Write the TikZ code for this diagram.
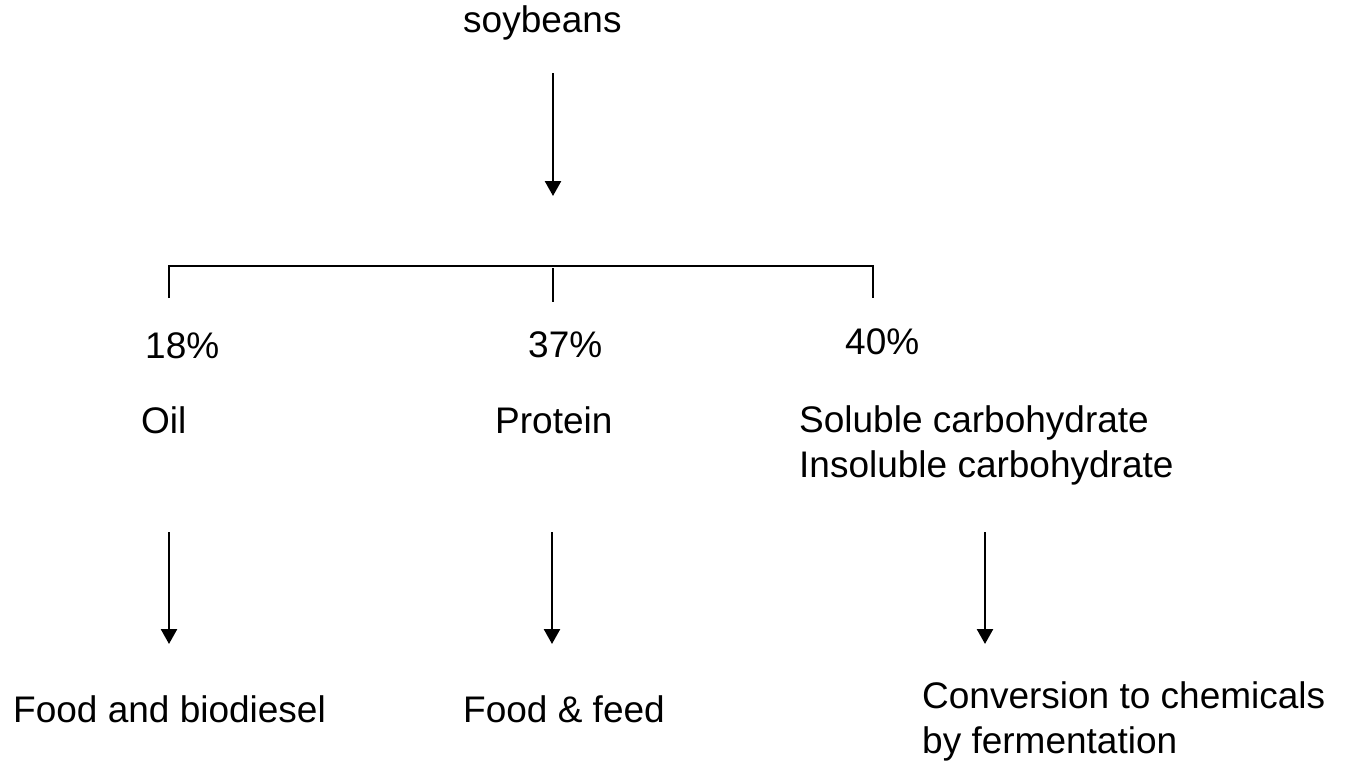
\documentclass[tikz,border=0pt]{standalone}
\usepackage{fontspec}
\setmainfont{Liberation Sans}
\usetikzlibrary{arrows.meta}
\begin{document}
\begin{tikzpicture}[x=1pt,y=-1pt,
  lbl/.style={anchor=base west,inner sep=0pt,font=\fontsize{37}{45}\selectfont,align=left},
  line/.style={line width=2.5pt},
  arr/.style={line width=2.5pt,-{Triangle[width=16pt,length=15pt]}}]
\useasboundingbox[fill=white] (0,0) rectangle (1345,771);
% texts
\node[lbl] (soy) at (463,32) {soybeans};
\node[lbl] (p18) at (145,358) {18\%};
\node[lbl] (p37) at (528,357) {37\%};
\node[lbl] (p40) at (845,354) {40\%};
\node[lbl] (oil) at (141,433) {Oil};
\node[lbl] (prot) at (495,433) {Protein};
\node[lbl] (carb) at (799,477) {Soluble carbohydrate\\Insoluble carbohydrate};
\node[lbl] (food) at (13,722) {Food and biodiesel};
\node[lbl] (feed) at (463,722) {Food \& feed};
\node[lbl] (conv) at (922,753) {Conversion to chemicals\\by fermentation};
% connector points
\coordinate (a0) at (553,73);  \coordinate (a1) at (553,196);
\coordinate (bl) at (169,298); \coordinate (blt) at (169,266);
\coordinate (br) at (873,298); \coordinate (brt) at (873,266);
\coordinate (bm0) at (553,268); \coordinate (bm1) at (553,302);
\coordinate (o0) at (169,532); \coordinate (o1) at (169,644);
\coordinate (q0) at (552,532); \coordinate (q1) at (552,644);
\coordinate (c0) at (985,532); \coordinate (c1) at (985,644);
% drawing
\draw[arr] (a0) -- (a1);
\draw[line] (bl) -- (blt) -- (brt) -- (br);
\draw[line] (bm0) -- (bm1);
\draw[arr] (o0) -- (o1);
\draw[arr] (q0) -- (q1);
\draw[arr] (c0) -- (c1);
\end{tikzpicture}
\end{document}
